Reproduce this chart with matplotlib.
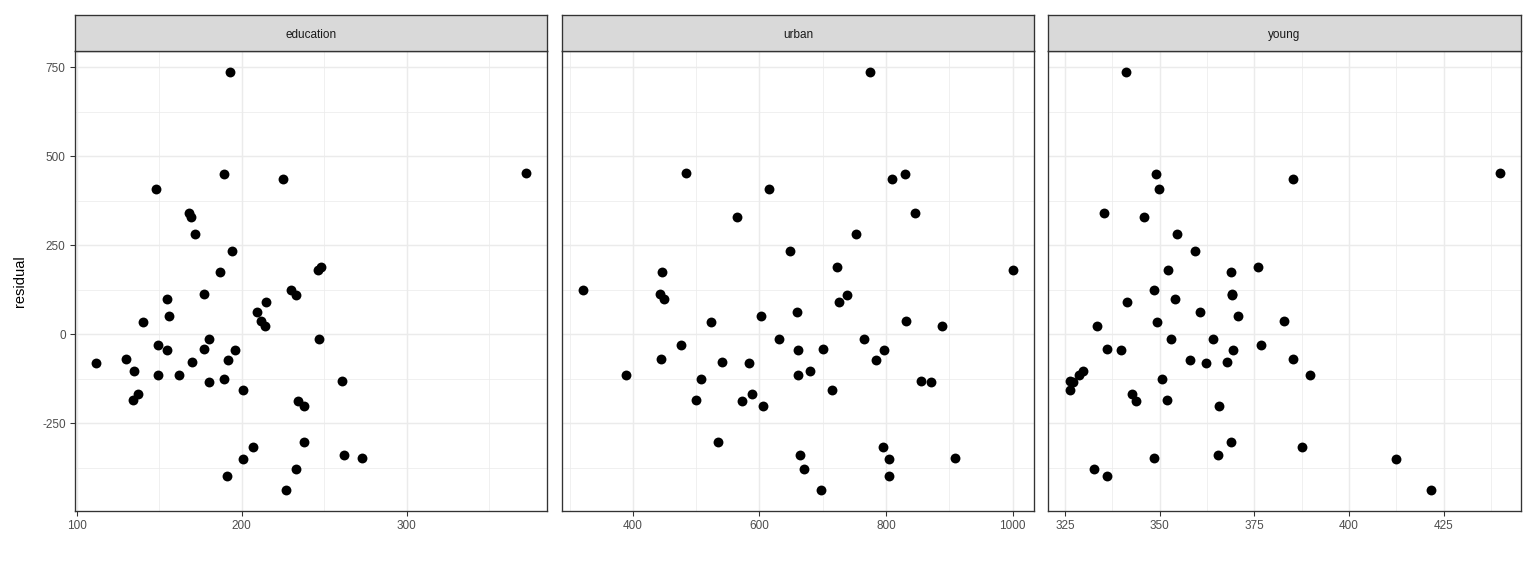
import numpy as np
import matplotlib
matplotlib.use('Agg')
import matplotlib.pyplot as plt
from matplotlib.ticker import MultipleLocator

plt.rcParams['font.family'] = ['Liberation Sans', 'DejaVu Sans']
plt.rcParams['axes.unicode_minus'] = False

# US states (Anscombe data), predictors and the residual
states = ["ME", "NH", "VT", "MA", "RI", "CT", "NY", "NJ", "PA", "OH", "IN", "IL", "MI",
          "WI", "MN", "IA", "MO", "ND", "SD", "NE", "KS", "DE", "MD", "DC", "VA", "WV",
          "NC", "SC", "GA", "FL", "KY", "TN", "AL", "MS", "AR", "LA", "OK", "TX", "MT",
          "ID", "WY", "CO", "NM", "AZ", "UT", "NV", "WA", "OR", "CA", "AK", "HI"]
education = [189, 169, 230, 168, 180, 193, 261, 214, 201, 172, 194, 189, 233,
             209, 262, 234, 177, 177, 187, 148, 196, 248, 247, 246, 180, 149,
             155, 149, 156, 191, 140, 137, 112, 130, 134, 162, 135, 155, 238,
             170, 238, 192, 227, 207, 201, 225, 215, 233, 273, 372, 212]
urban = [508, 564, 322, 846, 871, 774, 856, 889, 715, 753, 649, 830, 738,
         659, 664, 572, 701, 443, 446, 615, 661, 722, 766, 1000, 631, 390,
         450, 476, 603, 805, 523, 588, 584, 445, 500, 661, 680, 797, 534,
         541, 605, 785, 698, 796, 804, 809, 726, 671, 909, 484, 831]
young = [350.7, 345.9, 348.5, 335.3, 327.1, 341.0, 326.2, 333.5, 326.2, 354.5, 359.3, 348.9, 369.2,
         360.7, 365.4, 343.8, 336.1, 369.1, 368.7, 349.9, 339.9, 375.9, 364.1, 352.1, 353.0, 328.8,
         354.1, 376.7, 370.6, 336.0, 349.3, 342.8, 362.2, 385.2, 351.9, 389.6, 329.8, 369.4, 368.9,
         367.7, 365.6, 358.1, 421.5, 387.5, 412.4, 385.1, 341.3, 332.7, 348.4, 439.7, 382.9]
residual = [-126, 330, 124, 341, -134, 737, -131, 23, -158, 282, 234, 450, 111,
            63, -340, -188, -41, 113, 175, 409, -44, 189, -14, 181, -14, -115,
            99, -30, 52, -399, 35, -168, -81, -70, -184, -115, -103, -44, -304,
            -78, -202, -72, -438, -317, -351, 436, 90, -379, -348, 453, 36]

facets = ["education", "urban", "young"]
xdata = {"education": education, "urban": urban, "young": young}
xmajor = {"education": 100, "urban": 200, "young": 25}
ymajor = 250

W, H = 1536, 576
fig = plt.figure(figsize=(W / 96, H / 96), dpi=96)

panel_px = [(75, 547), (562, 1034), (1048, 1521)]
top, bottom, strip_top = 51, 511, 15

def expand(vals, mult=0.05):
    lo, hi = min(vals), max(vals)
    d = (hi - lo) * mult
    return lo - d, hi + d

ylim = expand(residual)

for i, (name, (x0, x1)) in enumerate(zip(facets, panel_px)):
    ax = fig.add_axes([x0 / W, 1 - bottom / H, (x1 - x0) / W, (bottom - top) / H])
    ax.plot(xdata[name], residual, 'o', color='black', markersize=7.4, markeredgewidth=0)
    ax.set_xlim(*expand(xdata[name]))
    ax.set_ylim(*ylim)

    ax.xaxis.set_major_locator(MultipleLocator(xmajor[name]))
    ax.xaxis.set_minor_locator(MultipleLocator(xmajor[name] / 2))
    ax.yaxis.set_major_locator(MultipleLocator(ymajor))
    ax.yaxis.set_minor_locator(MultipleLocator(ymajor / 2))

    ax.grid(which='major', color='#EBEBEB', linewidth=1.1)
    ax.grid(which='minor', color='#EBEBEB', linewidth=0.55)
    ax.set_axisbelow(True)

    for sp in ax.spines.values():
        sp.set_color('#333333')
        sp.set_linewidth(1.0)

    ax.tick_params(which='major', length=4, width=0.8, color='#333333',
                   labelsize=8.8, labelcolor='#4D4D4D', pad=3)
    ax.tick_params(which='minor', length=0)
    if i == 0:
        ax.set_ylabel('residual', fontsize=11, color='black')
        ax.yaxis.set_label_coords((27 - x0) / (x1 - x0), 0.5)
    else:
        ax.tick_params(axis='y', which='both', left=False, labelleft=False)

    # facet strip
    sax = fig.add_axes([x0 / W, 1 - top / H, (x1 - x0) / W, (top - strip_top) / H])
    sax.set_facecolor('#D9D9D9')
    sax.set_xticks([])
    sax.set_yticks([])
    for sp in sax.spines.values():
        sp.set_color('#333333')
        sp.set_linewidth(1.0)
    sax.text(0.5, 0.45, name, ha='center', va='center', fontsize=8.8,
             color='#1A1A1A', transform=sax.transAxes)

fig.savefig('out.png', dpi=96)
